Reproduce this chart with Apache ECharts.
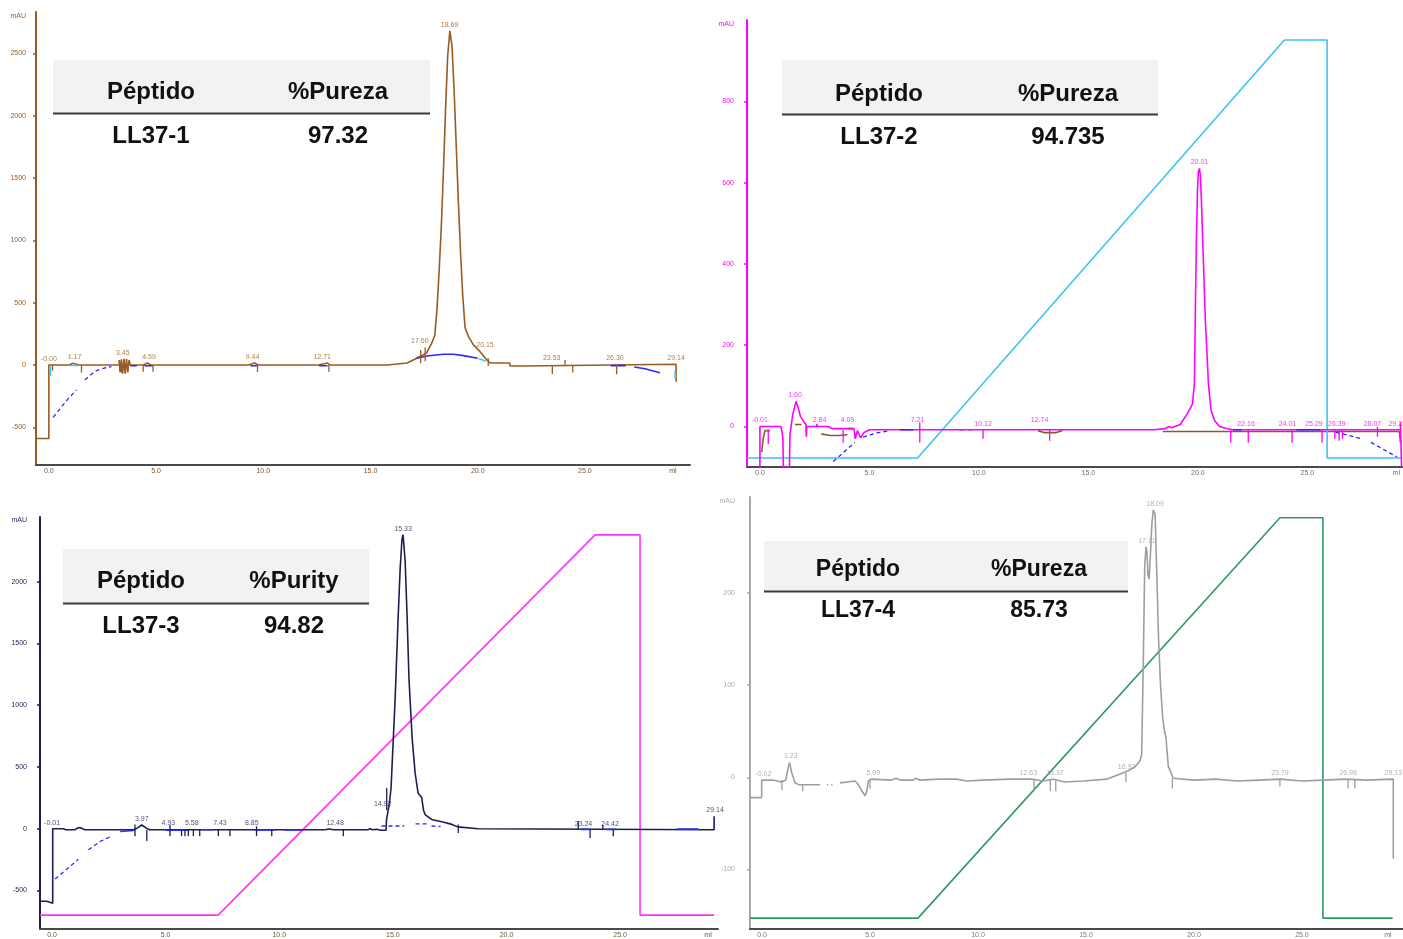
<!DOCTYPE html>
<html><head><meta charset="utf-8">
<script src="https://cdn.jsdelivr.net/npm/echarts@6/dist/echarts.min.js"></script>
<style>html,body{margin:0;padding:0;background:#fff}#c{width:1403px;height:939px}</style>
</head><body><div id="c"></div>
<script>
// ================= DATA =================
const xTickValues = [0, 5, 10, 15, 20, 25];
const xUnit = 'ml';
const yUnit = 'mAU';

// ---- Panel 1 : LL37-1 ----
const p1YTicks = [-500, 0, 500, 1000, 1500, 2000, 2500];
const p1Trace = [[-0.6,-590],[0.0,-590],[0.0,0],[0.98,0],[0.98,14],[1.1,14],[1.25,8],[1.4,0],
 [3.28,0],[3.28,40],[3.32,-60],[3.38,45],[3.44,-70],[3.5,50],[3.56,-70],[3.62,50],[3.68,-60],[3.74,40],[3.8,0],
 [4.4,0],[4.4,16],[4.6,16],[4.75,0],[9.3,0],[9.3,16],[9.6,16],[9.75,0],[12.55,0],[12.55,16],[13.0,16],[13.1,0],
 [15.8,0],[15.8,14],[16.7,16],[17.16,54],[17.62,97],[17.86,177],[18.0,240],[18.1,450],[18.2,750],[18.3,1100],
 [18.4,1550],[18.5,2050],[18.6,2480],[18.7,2680],[18.8,2560],[18.9,2200],[19.0,1750],[19.1,1300],[19.2,900],
 [19.3,560],[19.41,300],[19.57,228],[19.8,161],[20.11,107],[20.35,56],[20.58,16],[21.5,16],[21.5,-8],
 [22.13,-8],[22.13,6],[29.25,6],[29.25,-135]];
const p1BaseDashed = [
 [[0.2,-420],[0.55,-345],[0.9,-270],[1.29,-200]],
 [[1.68,-120],[1.95,-78],[2.22,-45],[2.6,-24],[2.92,-13]]];
const p1BaseSolid = [
 [[3.8,-6],[4.1,-6]],[[4.45,-6],[4.85,-6]],[[9.4,-6],[9.7,-6]],[[12.6,-6],[13.0,-6]],
 [[17.15,54],[17.62,72],[18.4,86],[18.87,86],[19.34,75],[20.0,54]],
 [[26.2,-5],[26.9,-5]],[[27.3,-16],[27.8,-30],[28.5,-62]]];
const p1BaseCyan = [[[0.98,-4],[1.37,-4]],[[20.05,50],[20.4,30]],[[0.07,-10],[0.07,-90]],[[29.2,-50],[29.22,-110]]];
const p1Ticks = [[0.17,0,-45],[1.52,0,-60],[3.39,0,-60],[4.4,0,-55],[4.86,0,-55],[9.73,0,-55],[13.06,0,-55],
 [17.34,120,15],[17.55,140,30],[20.49,54,-8],[23.48,0,-75],[24.07,0,40],[24.43,0,-60],[26.48,0,-75]];
const p1Labels = [[0.0,0,'-0.00'],[1.2,14,'1.17'],[3.45,50,'3.45'],[4.67,16,'4.59'],[9.5,16,'9.44'],
 [12.75,16,'12.71'],[17.3,140,'17.60'],[18.69,2680,'18.69'],[20.34,110,'20.15'],[23.45,8,'23.53'],
 [26.4,8,'26.30'],[29.25,8,'29.14']];

// ---- Panel 2 : LL37-2 ----
const p2YTicks = [0, 200, 400, 600, 800];
const p2Trace = [[0,-100],[0,0],[0.95,0],[1.0,-10],[1.05,-30],[1.07,-100],[1.35,-100],[1.37,-20],[1.5,30],
 [1.65,62],[1.75,45],[1.85,25],[2.0,12],[2.1,5],[2.12,-25],[2.14,0],[2.6,0],[2.6,6],[2.62,0],[3.1,0],[3.3,-5],
 [4.3,-5],[4.35,-30],[4.45,-10],[4.6,-28],[4.75,-15],[5.0,-8],[18.0,-8],[18.5,-5],[18.7,0],[18.8,-3],[19.2,5],
 [19.31,15],[19.5,30],[19.75,55],[19.84,105],[19.89,310],[19.93,458],[19.98,581],[20.02,626],[20.07,635],
 [20.11,618],[20.16,557],[20.25,409],[20.34,261],[20.43,163],[20.48,105],[20.6,40],[20.76,15],[20.99,0],
 [21.3,-5],[21.6,-8],[29.25,-8],[29.25,10],[29.3,10],[29.3,-100]];
const p2Gradient = [[-0.59,0],[7.2,0],[23.95,100],[25.9,100],[25.9,0],[29.33,0]];
const p2Brown = [
 [[0.08,-63],[0.15,-30],[0.23,-10],[0.46,-10]],[[1.6,5],[1.9,5]],
 [[2.8,-18],[3.2,-22],[3.6,-22],[4.0,-20]],[[4.05,-5],[4.25,-5]],
 [[9.1,-8],[9.3,-8]],[[9.5,-8],[9.7,-8]],[[12.7,-10],[13.0,-15],[13.5,-15],[13.8,-10]],
 [[18.4,-12],[29.2,-12],[29.25,-40]]];
const p2BaseDashed = [[[3.35,-86],[3.85,-62],[4.33,-39]],[[4.71,-26],[5.3,-16],[5.93,-10]],
 [[26.3,-14],[26.9,-22],[27.45,-30]],[[27.9,-39],[28.5,-57],[29.1,-75]]];
const p2BaseSolid = [[[6.4,-8],[7.0,-8]],[[21.6,-8],[22.0,-8]],[[24.5,-8],[25.6,-8]]];
const p2Ticks = [[0.38,-8,-43],[3.8,-8,-40],[7.3,10,-40],[10.19,-8,-30],[13.23,-8,-35],[21.5,-8,-40],
 [22.3,-8,-40],[24.3,-8,-40],[25.67,-8,-40],[26.25,-8,-30],[26.45,-8,-35],[26.6,-8,-30],[28.2,0,-25]];
const p2Labels = [[0.0,0,'-0.01'],[1.6,62,'1.60'],[2.72,0,'2.84'],[4.0,0,'4.09'],[7.2,0,'7.21'],
 [10.19,-8,'10.12'],[12.77,0,'12.74'],[20.07,635,'20.01'],[22.2,-8,'22.16'],[24.09,-8,'24.01'],
 [25.3,-8,'25.29'],[26.34,-8,'26.39'],[27.97,-8,'28.07'],[29.1,-8,'29.23']];

// ---- Panel 3 : LL37-3 ----
const p3YTicks = [-500, 0, 500, 1000, 1500, 2000];
const p3Trace = [[-0.53,-587],[-0.23,-587],[-0.23,-603],[0.03,-603],[0.03,0],[0.5,0],[0.6,-8],[1.0,-8],
 [1.12,5],[1.23,10],[1.35,0],[1.45,-8],[3.6,-8],[3.75,5],[3.95,30],[4.15,5],[4.3,-8],[12.0,-8],[12.2,-2],
 [12.4,-8],[13.9,-8],[14.0,0],[14.1,-8],[14.3,-5],[14.45,-12],[14.7,-12],[14.72,75],[14.79,145],[14.85,210],
 [14.92,330],[15.1,1050],[15.23,1700],[15.32,2100],[15.4,2340],[15.45,2380],[15.54,2170],[15.63,1700],
 [15.71,1210],[15.85,730],[15.98,450],[16.11,290],[16.27,250],[16.35,150],[16.42,115],[16.7,75],[17.2,55],
 [17.6,35],[17.85,15],[18.75,0],[18.8,-8],[29.14,-8],[29.14,100]];
const p3Gradient = [[-0.53,0],[7.31,0],[23.9,100],[25.88,100],[25.88,0],[29.14,0]];
const p3BaseDashed = [[[0.13,-407],[0.6,-335],[1.16,-247]],[[1.6,-171],[2.1,-105],[2.63,-59]],
 [[14.5,22],[15.5,22]],[[16.0,40],[16.55,40]],[[16.7,22],[17.1,18]]];
const p3BaseSolid = [[[3.0,-22],[3.6,-14]],[[5.0,-12],[6.0,-12]],[[6.6,-8],[7.1,-8]],[[8.9,-10],[9.8,-10]],
 [[10.2,-10],[11.0,-10]],[[23.3,-5],[23.7,-5]],[[24.4,-5],[24.8,-5]],[[27.5,-2],[28.45,-2]]];
const p3Ticks = [[3.65,35,-60],[4.17,-8,-100],[5.19,30,-60],[5.7,-8,-60],[5.85,-8,-60],[6.0,-8,-60],
 [6.22,-8,-60],[6.5,-8,-60],[7.32,-8,-60],[7.83,-8,-60],[9.0,20,-60],[9.67,-8,-60],[12.82,-8,-60],
 [14.73,330,150],[17.88,35,-35],[23.16,62,-8],[23.68,-8,-75],[24.24,30,-8],[24.7,-8,-60]];
const p3Labels = [[0.0,0,'-0.01'],[3.95,30,'3.97'],[5.12,0,'4.93'],[6.15,0,'5.58'],[7.39,0,'7.43'],
 [8.79,0,'8.85'],[12.46,0,'12.48'],[14.55,150,'14.92'],[15.45,2380,'15.33'],[23.39,-8,'23.24'],
 [24.56,-8,'24.42'],[29.18,100,'29.14']];

// ---- Panel 4 : LL37-4 ----
const p4YTicks = [-100, 0, 100, 200];
const p4TraceA = [[-0.56,-22],[-0.02,-22],[-0.02,-3],[0.5,-3],[0.9,-5],[0.93,-4],[1.1,-3],[1.2,10],[1.27,16],
 [1.37,5],[1.53,-6],[1.7,-8],[2.69,-8]];
const p4TraceDots = [[[3.0,-8],[3.06,-8]],[[3.2,-8],[3.26,-8]]];
const p4TraceB = [[3.6,-6],[4.31,-4],[4.46,-8],[4.6,-14],[4.77,-20],[4.85,-15],[4.92,-4],[5.05,-2],[6.0,-3],
 [6.2,-1],[6.4,-3],[7.0,-3],[7.1,-1],[7.3,-3],[8.2,-2],[9.0,-2],[9.5,-4],[10.2,-3],[11.5,-2],[12.5,-2],
 [13.0,-4],[13.5,-2],[14.0,-5],[14.9,-4],[15.96,-2],[16.73,5],[17.04,8],[17.3,12],[17.5,18],[17.58,25],
 [17.65,120],[17.72,230],[17.78,250],[17.82,245],[17.87,220],[17.92,215],[17.98,240],[18.05,275],[18.12,290],
 [18.2,285],[18.28,220],[18.36,150],[18.45,100],[18.55,65],[18.65,48],[18.7,44],[18.81,12],[19.04,-1],
 [20.0,-3],[21.0,-2],[22.0,-4],[23.0,-3],[24.0,-2],[25.0,-4],[26.0,-3],[27.0,-2],[28.0,-3],[29.23,-2],[29.23,-88]];
const p4Gradient = [[-0.56,0],[7.22,0],[23.98,100],[25.97,100],[25.97,0],[29.2,0]];
const p4Ticks = [[0.92,-3,-14],[1.88,-8,-15],[5.0,-2,-12],[12.6,-2,-15],[13.35,-2,-15],[13.6,-2,-15],
 [16.85,5,-5],[19.0,-1,-12],[23.98,-2,-10],[27.14,-2,-12],[27.45,-2,-12]];
const p4Labels = [[0.06,-3,'-0.02'],[1.33,16,'1.23'],[5.15,-2,'5.09'],[12.33,-2,'12.63'],[13.56,-2,'13.37'],
 [16.88,5,'16.97'],[17.82,250,'17.71'],[18.2,290,'18.09'],[23.98,-2,'23.79'],[27.14,-2,'26.98'],[29.23,-2,'29.13']];

// ---- Tables ----
const tableHeadPeptide = ['Péptido','Péptido','Péptido','Péptido'];
const tableHeadPurity = ['%Pureza','%Pureza','%Purity','%Pureza'];
const tablePeptides = ['LL37-1','LL37-2','LL37-3','LL37-4'];
const tablePurity = ['97.32','94.735','94.82','85.73'];

// ================= LAYOUT / STYLE =================
const FONT = "'Liberation Sans', Arial, sans-serif";
const panels = [
 {grid:{left:36,top:12,width:654,height:453}, x:[-0.6,29.9], y:[-802,2831], yTicks:p1YTicks, mau:2800, ml:29.1,
  color:'#9b5a22', xLabelColor:'#7a5230', yMargin:10,
  traces:[p1Trace], traceColor:'#9b5a22', grad:null,
  dashed:p1BaseDashed, solid:p1BaseSolid, cyan:p1BaseCyan, brown:[], ticks:p1Ticks, tickColor:'#9b5a22', labels:p1Labels,
  table:{x:53,y:60,w:377,h:53,c1:151,c2:338,r1:92,r2:136,fs:24}},
 {grid:{left:747,top:20,width:656,height:446.6}, x:[-0.59,29.33], y:[-98.5,1000], yTicks:p2YTicks, mau:990, ml:29.06,
  color:'#ff00ff', xLabelColor:'#7a6a6a', yMargin:13,
  traces:[p2Trace], traceColor:'#ff00ff', grad:p2Gradient, gradRange:[-2.06,104.78], gradColor:'#3cc3ef',
  dashed:p2BaseDashed, solid:p2BaseSolid, cyan:[], brown:p2Brown, ticks:p2Ticks, tickColor:'#ff00ff', labels:p2Labels,
  table:{x:782,y:60,w:376,h:54,c1:879,c2:1068,r1:94,r2:137,fs:24}},
 {grid:{left:40,top:517,width:678,height:415}, x:[-0.53,29.31], y:[-812,2524], yTicks:p3YTicks, mau:2500, ml:28.87,
  color:'#1e1e55', xLabelColor:'#6a5a3a', yMargin:13,
  traces:[p3Trace], traceColor:'#1e1e55', grad:p3Gradient, gradRange:[-3.655,104.7], gradColor:'#ff33ff',
  dashed:p3BaseDashed, solid:p3BaseSolid, cyan:[], brown:[], ticks:p3Ticks, tickColor:'#1e1e55', labels:p3Labels,
  table:{x:63,y:549,w:306,h:54,c1:141,c2:294,r1:581,r2:626,fs:24}},
 {grid:{left:750,top:497,width:653,height:436}, x:[-0.56,29.68], y:[-164.5,304], yTicks:p4YTicks, mau:300, ml:28.98,
  color:'#a8a8a8', xLabelColor:'#777', yMargin:15,
  traces:[p4TraceA, p4TraceB].concat(p4TraceDots), traceColor:'#9e9e9e', grad:p4Gradient, gradRange:[-2.72,105.2], gradColor:'#2e9a62',
  dashed:[], solid:[], cyan:[], brown:[], ticks:p4Ticks, tickColor:'#9e9e9e', labels:p4Labels,
  table:{x:764,y:541,w:364,h:50,c1:858,c2:1039,r1:570,r2:611,fs:23}}
];

const option = {animation:false, backgroundColor:'#fff', grid:[], xAxis:[], yAxis:[], series:[], graphic:[]};

panels.forEach((p, i) => {
  option.grid.push(Object.assign({containLabel:false}, p.grid));
  option.xAxis.push({
    type:'value', gridIndex:i, min:p.x[0], max:p.x[1],
    axisLine:{show:true, onZero:false, lineStyle:{color:'#4a4a4a', width:2}},
    axisTick:{show:false},
    splitLine:{show:false},
    axisLabel:{customValues:xTickValues.concat([p.ml]), fontSize:7, fontFamily:FONT, color:p.xLabelColor, margin:3,
      formatter:v => (Math.abs(v - p.ml) < 1e-6 ? xUnit : v.toFixed(1))}
  });
  const yMain = option.yAxis.length;
  option.yAxis.push({
    type:'value', gridIndex:i, min:p.y[0], max:p.y[1],
    axisLine:{show:true, onZero:false, lineStyle:{color:p.color, width:2}},
    axisTick:{show:true, customValues:p.yTicks, length:3, lineStyle:{color:p.color, width:1.5}},
    splitLine:{show:false},
    axisLabel:{customValues:p.yTicks.concat([p.mau]), fontSize:7, fontFamily:FONT, color:p.color, margin:p.yMargin,
      formatter:v => (Math.abs(v - p.mau) < 1e-6 ? yUnit : String(v))}
  });
  const mk = (data, color, width, dash, yi, z) => ({
    type:'line', xAxisIndex:i, yAxisIndex:yi, data:data, symbol:'none', showSymbol:false, silent:true,
    lineStyle:{color:color, width:width, type: dash ? [4,3] : 'solid'}, z:z, clip:true
  });
  if (p.grad) {
    const yg = option.yAxis.length;
    option.yAxis.push({type:'value', gridIndex:i, min:p.gradRange[0], max:p.gradRange[1], show:false});
    option.series.push(mk(p.grad, p.gradColor, 1.6, false, yg, 3));
  }
  p.brown.forEach(s => option.series.push(mk(s, '#8b5a2b', 1.6, false, yMain, 2)));
  p.traces.forEach(s => option.series.push(mk(s, p.traceColor, 1.6, false, yMain, 4)));
  p.dashed.forEach(s => option.series.push(mk(s, '#2a2aff', 1.3, true, yMain, 5)));
  p.solid.forEach(s => option.series.push(mk(s, '#2a2aff', 1.6, false, yMain, 5)));
  p.cyan.forEach(s => option.series.push(mk(s, '#33ccff', 1.6, false, yMain, 5)));
  option.series.push({
    type:'custom', xAxisIndex:i, yAxisIndex:yMain, data:p.ticks, encode:{x:0, y:[1,2]}, silent:true, z:6,
    renderItem:(params, api) => {
      const a = api.coord([api.value(0), api.value(1)]);
      const b = api.coord([api.value(0), api.value(2)]);
      return {type:'line', shape:{x1:a[0], y1:a[1], x2:b[0], y2:b[1]}, style:{stroke:p.tickColor, lineWidth:1.3}};
    }
  });
  option.series.push({
    type:'scatter', xAxisIndex:i, yAxisIndex:yMain, symbolSize:1, silent:true, z:7,
    itemStyle:{color:'rgba(0,0,0,0)'},
    data:p.labels.map(l => ({value:[l[0], l[1]], name:l[2]})),
    label:{show:true, position:'top', distance:2, formatter:'{b}', fontSize:7, fontFamily:FONT, color:p.traceColor}
  });
  // table
  const t = p.table;
  option.graphic.push(
    {type:'rect', z:100, shape:{x:t.x, y:t.y, width:t.w, height:t.h}, style:{fill:'#f2f2f2'}},
    {type:'line', z:101, shape:{x1:t.x, y1:t.y+t.h+0.5, x2:t.x+t.w, y2:t.y+t.h+0.5}, style:{stroke:'#3a3a3a', lineWidth:2}},
    {type:'text', z:102, style:{x:t.c1, y:t.r1, text:tableHeadPeptide[i], align:'center', verticalAlign:'middle', font:'bold '+t.fs+'px '+FONT, fill:'#111'}},
    {type:'text', z:102, style:{x:t.c2, y:t.r1, text:tableHeadPurity[i], align:'center', verticalAlign:'middle', font:'bold '+t.fs+'px '+FONT, fill:'#111'}},
    {type:'text', z:102, style:{x:t.c1, y:t.r2, text:tablePeptides[i], align:'center', verticalAlign:'middle', font:'bold '+t.fs+'px '+FONT, fill:'#111'}},
    {type:'text', z:102, style:{x:t.c2, y:t.r2, text:tablePurity[i], align:'center', verticalAlign:'middle', font:'bold '+t.fs+'px '+FONT, fill:'#111'}}
  );
});

const chart = echarts.init(document.getElementById('c'), null, {renderer:'canvas', width:1403, height:939});
chart.setOption(option);
</script>
</body></html>
